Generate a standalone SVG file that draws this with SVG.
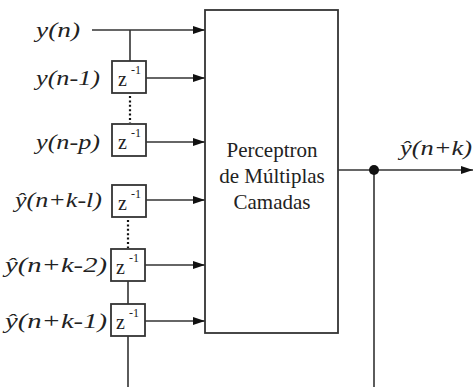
<svg xmlns="http://www.w3.org/2000/svg" width="473" height="387" viewBox="0 0 473 387">
<defs>
<marker id="ah" markerWidth="12" markerHeight="8" refX="12" refY="4" orient="auto" markerUnits="userSpaceOnUse">
<path d="M0,0 L12,4 L0,8 Z" fill="#111"/>
</marker>
<style>
.ln{stroke:#333;stroke-width:1.6;fill:none}
.dot{stroke:#111;stroke-width:2.2;fill:none;stroke-dasharray:2 2.4}
.box{fill:#fff;stroke:#333;stroke-width:1.8}
text{font-family:"Liberation Serif","Times New Roman","DejaVu Serif",serif;fill:#222}
.lab{font-style:italic;font-size:22px}
.z{font-size:20px}
.sup{font-size:12px}
.mlp{font-size:21px;text-anchor:middle}
</style>
</defs>
<rect width="473" height="387" fill="#fff"/>
<g id="connectors">
<line class="ln" x1="92" y1="30" x2="205" y2="30" marker-end="url(#ah)"/>
<line class="ln" x1="130" y1="30" x2="130" y2="61"/>
<line class="ln" x1="146" y1="78" x2="205" y2="78" marker-end="url(#ah)"/>
<line class="dot" x1="130" y1="96" x2="130" y2="123"/>
<line class="ln" x1="146" y1="142" x2="205" y2="142" marker-end="url(#ah)"/>
<line class="ln" x1="146" y1="200" x2="205" y2="200" marker-end="url(#ah)"/>
<line class="dot" x1="128" y1="220" x2="128" y2="248"/>
<line class="ln" x1="145" y1="265" x2="205" y2="265" marker-end="url(#ah)"/>
<line class="ln" x1="128" y1="281" x2="128" y2="304"/>
<line class="ln" x1="145" y1="321" x2="205" y2="321" marker-end="url(#ah)"/>
<line class="ln" x1="128" y1="336" x2="128" y2="387"/>
<line class="ln" x1="338" y1="170" x2="473" y2="170" marker-end="url(#ah)"/>
<line class="ln" x1="374" y1="170" x2="374" y2="387"/>
<circle cx="374" cy="170" r="5" fill="#111"/>
</g>
<g id="mlp">
<rect class="box" x="205" y="10" width="133" height="323"/>
<text class="mlp" x="272" y="157">Perceptron</text>
<text class="mlp" x="272" y="183">de Múltiplas</text>
<text class="mlp" x="272" y="209">Camadas</text>
</g>
<g id="in-yn"><text class="lab" x="36" y="37" textLength="44" lengthAdjust="spacingAndGlyphs">y(n)</text></g>
<g id="in-yn1"><text class="lab" x="36" y="85" textLength="64" lengthAdjust="spacingAndGlyphs">y(n-1)</text></g>
<g id="in-ynp"><text class="lab" x="36" y="149" textLength="64" lengthAdjust="spacingAndGlyphs">y(n-p)</text></g>
<g id="in-yhl"><text class="lab" x="15" y="207" textLength="87" lengthAdjust="spacingAndGlyphs">ŷ(n+k-l)</text></g>
<g id="in-yh2"><text class="lab" x="5" y="272" textLength="102" lengthAdjust="spacingAndGlyphs">ŷ(n+k-2)</text></g>
<g id="in-yh1"><text class="lab" x="5" y="328" textLength="102" lengthAdjust="spacingAndGlyphs">ŷ(n+k-1)</text></g>
<g id="out"><text class="lab" x="400" y="155" textLength="72" lengthAdjust="spacingAndGlyphs">ŷ(n+k)</text></g>
<g id="d1"><rect class="box" x="112" y="61" width="34" height="32"/><text class="z" x="118" y="86">z</text><text class="sup" x="131" y="74">-1</text></g>
<g id="d2"><rect class="box" x="112" y="124" width="34" height="32"/><text class="z" x="118" y="149">z</text><text class="sup" x="131" y="137">-1</text></g>
<g id="d3"><rect class="box" x="112" y="185" width="34" height="32"/><text class="z" x="118" y="210">z</text><text class="sup" x="131" y="198">-1</text></g>
<g id="d4"><rect class="box" x="111" y="249" width="34" height="32"/><text class="z" x="116" y="274">z</text><text class="sup" x="129" y="262">-1</text></g>
<g id="d5"><rect class="box" x="111" y="304" width="34" height="32"/><text class="z" x="116" y="329">z</text><text class="sup" x="129" y="317">-1</text></g>
</svg>
